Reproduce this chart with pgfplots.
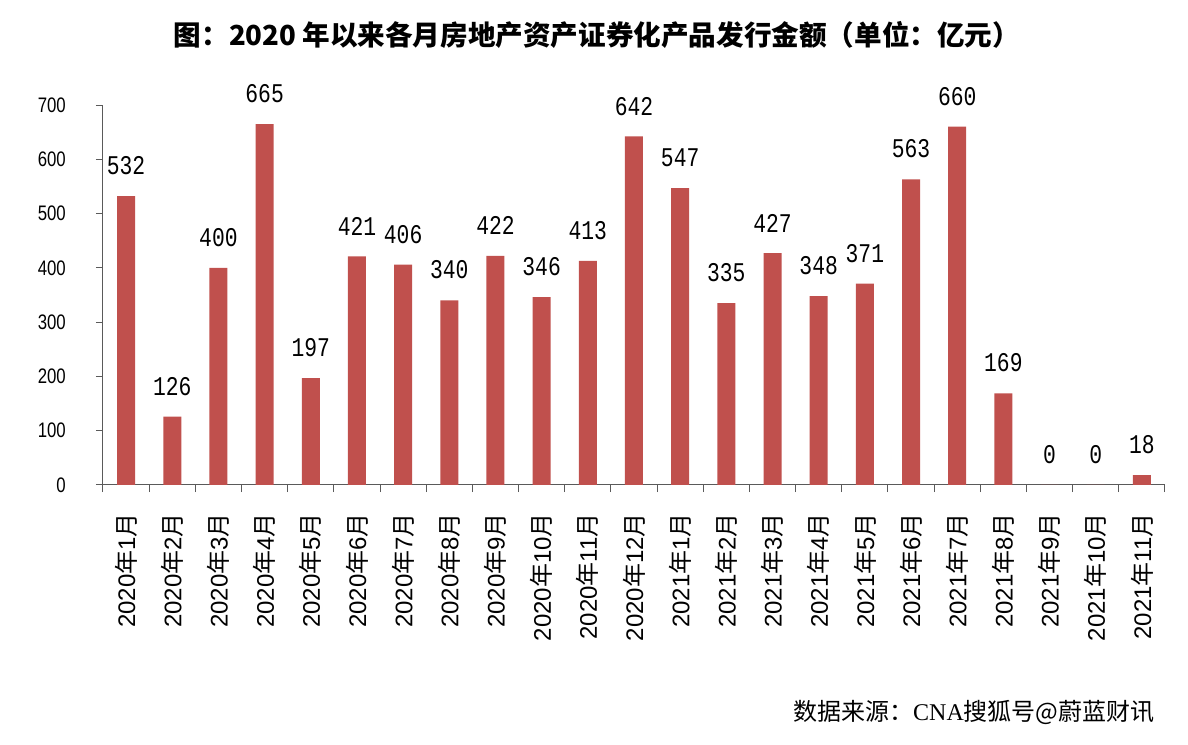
\documentclass[border=0pt]{standalone}
\usepackage{pgfplots}
\pgfplotsset{compat=1.18}
\usepackage{fontspec}
\setmainfont{Liberation Sans}
\newfontfamily\cjk{Noto Sans CJK SC}
\newfontfamily\valfont[FakeStretch=0.79]{Liberation Mono}
\newfontfamily\tickfont[FakeStretch=0.8]{Liberation Sans}
\newfontfamily\seriffont{Liberation Serif}
\definecolor{barred}{RGB}{192,80,77}
\definecolor{axgray}{RGB}{90,90,90}
\newcommand\m[2]{#1{\cjk 年}#2{\cjk 月}}
\begin{document}
\begin{tikzpicture}
\path[use as bounding box] (0,0) rectangle (1188pt,744pt);
\begin{axis}[
  at={(103pt,259pt)}, anchor=origin,
  scale only axis, width=1062pt, height=380pt,
  xmin=0.5, xmax=23.5, ymin=0, ymax=700,
  enlargelimits=false, clip=false,
  axis lines=left,
  axis line style={-, draw=axgray, line width=1pt},
  ybar, bar width=18pt,
  xtick={1,...,23},
  xticklabels={\m{2020}{1},\m{2020}{2},\m{2020}{3},\m{2020}{4},\m{2020}{5},\m{2020}{6},\m{2020}{7},\m{2020}{8},\m{2020}{9},\m{2020}{10},\m{2020}{11},\m{2020}{12},\m{2021}{1},\m{2021}{2},\m{2021}{3},\m{2021}{4},\m{2021}{5},\m{2021}{6},\m{2021}{7},\m{2021}{8},\m{2021}{9},\m{2021}{10},\m{2021}{11}},
  minor xtick={0.5,1.5,...,23.5},
  major x tick style={draw=none},
  minor x tick style={draw=axgray, line width=1pt},
  ytick={0,100,...,700},
  major y tick style={draw=axgray, line width=1pt},
  tick align=outside,
  major tick length=7pt, minor tick length=7pt,
  /pgf/number format/assume math mode=true,
  yticklabel style={font=\tickfont\fontsize{21}{21}\selectfont, inner sep=0pt, anchor=east},
  yticklabel shift=30pt,
  xticklabel style={font=\fontsize{24}{24}\selectfont, rotate=90, anchor=east, inner sep=0pt},
  xticklabel shift=21pt,
  nodes near coords,
  nodes near coords style={font=\valfont\fontsize{27}{27}\selectfont, anchor=south, inner sep=0pt, yshift=21pt, text=black},
]
\addplot[fill=barred, draw=none] coordinates {
(1,532) (2,126) (3,400) (4,665) (5,197) (6,421) (7,406) (8,340) (9,422) (10,346) (11,413) (12,642)
(13,547) (14,335) (15,427) (16,348) (17,371) (18,563) (19,660) (20,169) (21,0) (22,0) (23,18)};
\end{axis}
\node[font=\cjk\bfseries\fontsize{27.6}{27.6}\selectfont, inner sep=0pt] at (597pt,709.5pt) {图：2020 年以来各月房地产资产证券化产品发行金额（单位：亿元）};
\node[anchor=west, inner sep=0pt, font=\fontsize{24}{24}\selectfont] at (793pt,32pt) {{\cjk 数据来源：}{\seriffont CNA}{\cjk 搜狐号@蔚蓝财讯}};
\end{tikzpicture}
\end{document}
